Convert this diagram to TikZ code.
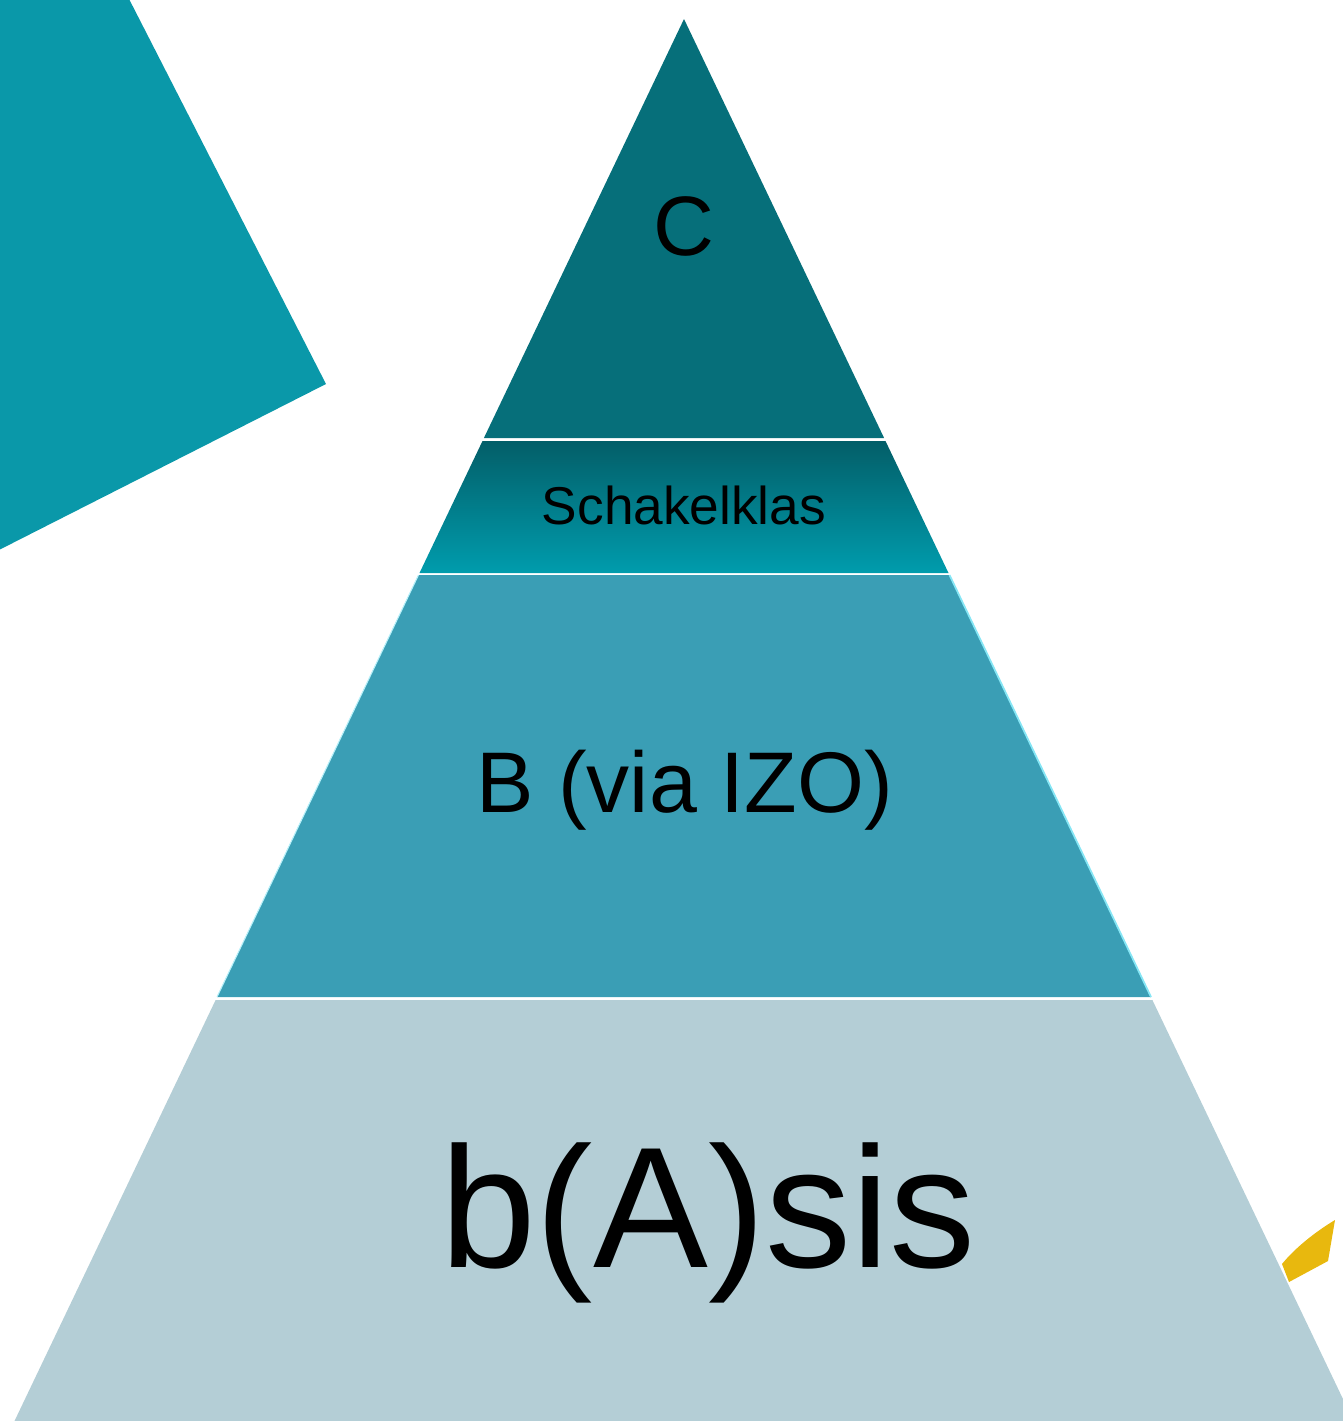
\documentclass[tikz,border=0pt]{standalone}
\usepackage{fontspec}
\setmainfont{Liberation Sans}
\usepackage{tikz}
\definecolor{tealtop}{HTML}{066F7A}
\definecolor{tealdark}{HTML}{035E68}
\definecolor{tealmid}{HTML}{009CAD}
\definecolor{tealb}{HTML}{3A9EB5}
\definecolor{tealbase}{HTML}{B4CED6}
\definecolor{tealside}{HTML}{0A98A9}
\definecolor{cyanedge}{HTML}{86E6F5}
\definecolor{gold}{HTML}{E8B80E}
\begin{document}
\begin{tikzpicture}[
            x = 0.02cm, y = -0.02cm, % pixel grid
            label/.style = {anchor = base, inner sep = 0pt, text = black}
        ]
        \useasboundingbox (0,0) rectangle (1343,1421);
        \clip (0,0) rectangle (1343,1421);

        % side shapes
        \fill[tealside] (-5,-5) -- (127,-5) -- (326,384) -- (-5,552) -- cycle;
        \fill[gold] (1335,1220) -- (1328,1261) -- (1289,1282) -- (1282,1264)
            .. controls (1295,1248) and (1315,1232) .. cycle;

	% pyramid levels
        \fill[tealtop] (684,19) -- (884.1,438) -- (483.9,438) -- cycle;
        \shade[top color = tealdark, bottom color = tealmid]
            (482.5,441) -- (885.5,441) -- (948.5,573) -- (419.5,573) -- cycle;
        \fill[tealb] (418.5,575) -- (949.5,575) -- (1151,997) -- (217,997) -- cycle;
        \draw[cyanedge, line width = 1pt] (949.5,575) -- (1151,997);
        \draw[cyanedge!60, line width = 0.6pt] (418.5,575) -- (217,997);
        \fill[tealbase] (215.6,1000) -- (1152.4,1000) -- (1353.5,1421) -- (14.5,1421) -- cycle;

         % labels
         \node[label, font = \fontsize{48}{56}\selectfont] (C) at (684,255) {C};
         \node[label, font = \fontsize{30.3}{36}\selectfont] (S) at (684,524) {Schakelklas};
         \node[label, font = \fontsize{49}{58}\selectfont] (B) at (685,812) {B (via IZO)};
         \node[label, font = \fontsize{98}{112}\selectfont] (A) at (708,1267) {b(A)sis};

  \end{tikzpicture}
\end{document}
